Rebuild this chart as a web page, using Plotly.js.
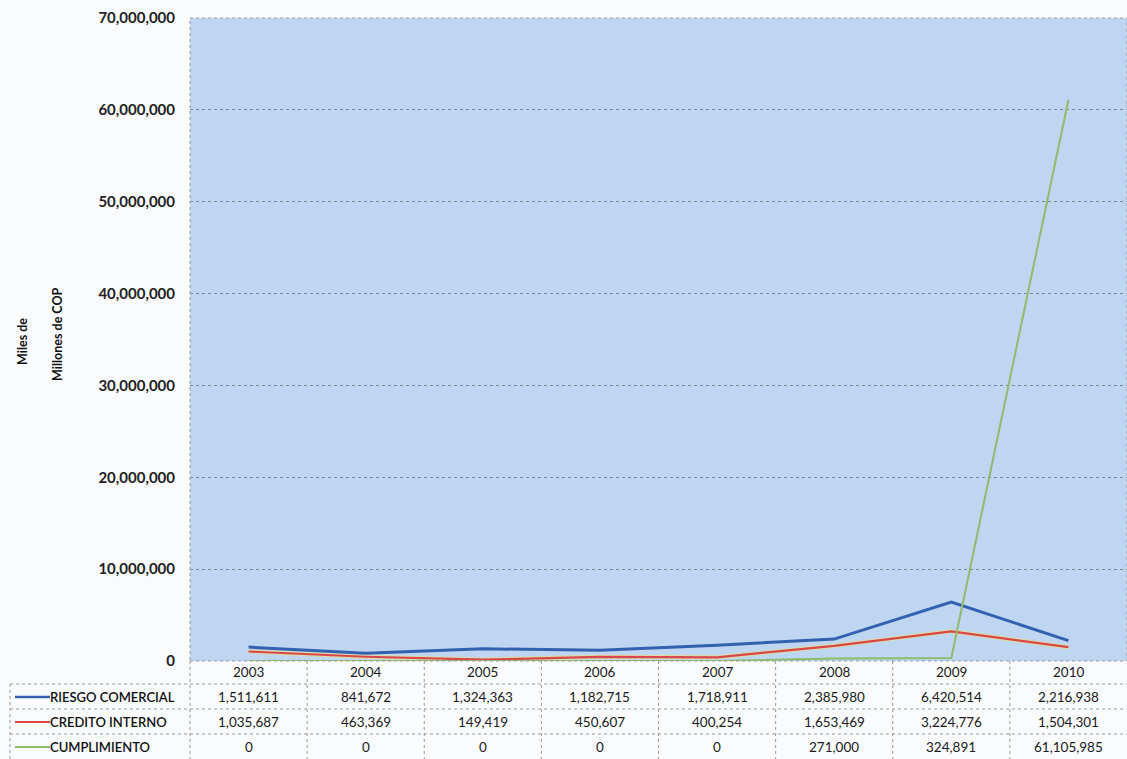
<!DOCTYPE html>
<html><head><meta charset="utf-8">
<script src="https://cdn.plot.ly/plotly-3.0.1.min.js"></script>
<style>html,body{margin:0;padding:0;background:#f9fbfd;}#chart{width:1127px;height:759px;}</style>
</head><body><div id="chart"></div>
<script>
const years = ['2003','2004','2005','2006','2007','2008','2009','2010'];
const seriesNames = ['RIESGO COMERCIAL','CREDITO INTERNO','CUMPLIMIENTO'];
const riesgoComercial = [1511611, 841672, 1324363, 1182715, 1718911, 2385980, 6420514, 2216938];
const creditoInterno = [1035687, 463369, 149419, 450607, 400254, 1653469, 3224776, 1504301];
const cumplimiento = [0, 0, 0, 0, 0, 271000, 324891, 61105985];
const yTicks = [0, 10000000, 20000000, 30000000, 40000000, 50000000, 60000000, 70000000];
const colors = ['#3460b0', '#d9474a', '#8fbb6c'];
const widths = [3, 2.2, 2];

const W = 1127, H = 759, T = 18, B = 98, L = 190, R = 0;
const plotH = H - T - B;
const py = p => (H - B - p) / plotH;
const px = p => (p - L) / (W - L - R);

const allSeries = [riesgoComercial, creditoInterno, cumplimiento];
const traces = [];
traces.push({x: years, y: creditoInterno, type: 'scatter', mode: 'lines',
  line: {color: 'rgba(235,225,120,0.55)', width: 4.5}, hoverinfo: 'skip', showlegend: false});
allSeries.forEach((s, i) => {
  traces.push({x: years, y: s, type: 'scatter', mode: 'lines', name: seriesNames[i],
    line: {color: colors[i], width: widths[i]}, showlegend: false});
});

const fmt = v => v.toLocaleString('en-US');
const font = {family: 'Lato, "Open Sans", sans-serif', size: 13.5, color: '#1a1a1a'};
const annotations = [];
const shapes = [];
const rowPix = [672, 697, 722, 747];
years.forEach((y, j) => {
  annotations.push({x: j, xref: 'x', y: py(rowPix[0]), yref: 'paper', xanchor: 'center', yanchor: 'middle',
    text: y, showarrow: false, font: font});
  allSeries.forEach((s, i) => {
    annotations.push({x: j, xref: 'x', y: py(rowPix[i + 1]), yref: 'paper', xanchor: 'center', yanchor: 'middle',
      text: fmt(s[j]), showarrow: false, font: font});
  });
});
seriesNames.forEach((n, i) => {
  annotations.push({x: px(48), xref: 'paper', y: py(rowPix[i + 1]), yref: 'paper', xanchor: 'left', yanchor: 'middle',
    text: n, showarrow: false, font: Object.assign({}, font, {size: 13, color: '#111', weight: 600})});
  shapes.push({type: 'line', xref: 'paper', yref: 'paper', x0: px(15), x1: px(50),
    y0: py(rowPix[i + 1]), y1: py(rowPix[i + 1]), line: {color: colors[i], width: i === 0 ? 2.5 : 2}});
});
annotations.push({x: px(22), xref: 'paper', y: py(342), yref: 'paper', text: 'Miles de', textangle: -90,
  xanchor: 'center', yanchor: 'middle',
  showarrow: false, font: {family: 'Lato, sans-serif', size: 12.5, color: '#111', weight: 'bold'}});
annotations.push({x: px(57), xref: 'paper', y: py(334), yref: 'paper', text: 'Millones de COP', textangle: -90,
  xanchor: 'center', yanchor: 'middle',
  showarrow: false, font: {family: 'Lato, sans-serif', size: 12.5, color: '#111', weight: 'bold'}});

const gridLine = {color: '#9a9a9a', width: 1, dash: 'dot'};
[684, 709, 734].forEach(p => {
  shapes.push({type: 'line', xref: 'paper', yref: 'paper', x0: px(10), x1: 1, y0: py(p), y1: py(p), line: gridLine});
});
shapes.push({type: 'line', xref: 'paper', yref: 'paper', x0: px(10), x1: px(10), y0: py(684), y1: py(759), line: gridLine});
shapes.push({type: 'line', xref: 'paper', yref: 'paper', x0: 0, x1: 0, y0: py(661), y1: py(759), line: gridLine});
for (let k = 0; k < years.length - 1; k++) {
  shapes.push({type: 'line', xref: 'x', yref: 'paper', x0: k + 0.5, x1: k + 0.5, y0: py(661), y1: py(759), line: gridLine});
}
shapes.push({type: 'rect', xref: 'paper', yref: 'paper', x0: 0, x1: 1, y0: 0, y1: 1, line: {color: '#9a9a9a', width: 1, dash: 'dot'}});

const layout = {
  width: W, height: H,
  margin: {l: L, r: R, t: T, b: B},
  paper_bgcolor: '#f9fbfd', plot_bgcolor: '#bed6f1',
  showlegend: false,
  xaxis: {type: 'category', range: [-0.5, 7.5], showticklabels: false, showgrid: false, zeroline: false, fixedrange: true},
  yaxis: {range: [0, 70000000], tickvals: yTicks, ticktext: yTicks.map(fmt), showgrid: true,
    gridcolor: '#7f8890', gridwidth: 1, griddash: 'dot', zeroline: false, ticks: '', ticklabelstandoff: 14,
    tickfont: {family: 'Lato, sans-serif', size: 15, color: '#222', weight: 'bold'}},
  annotations: annotations, shapes: shapes
};
Plotly.newPlot('chart', traces, layout, {displayModeBar: false, staticPlot: true});
</script></body></html>
